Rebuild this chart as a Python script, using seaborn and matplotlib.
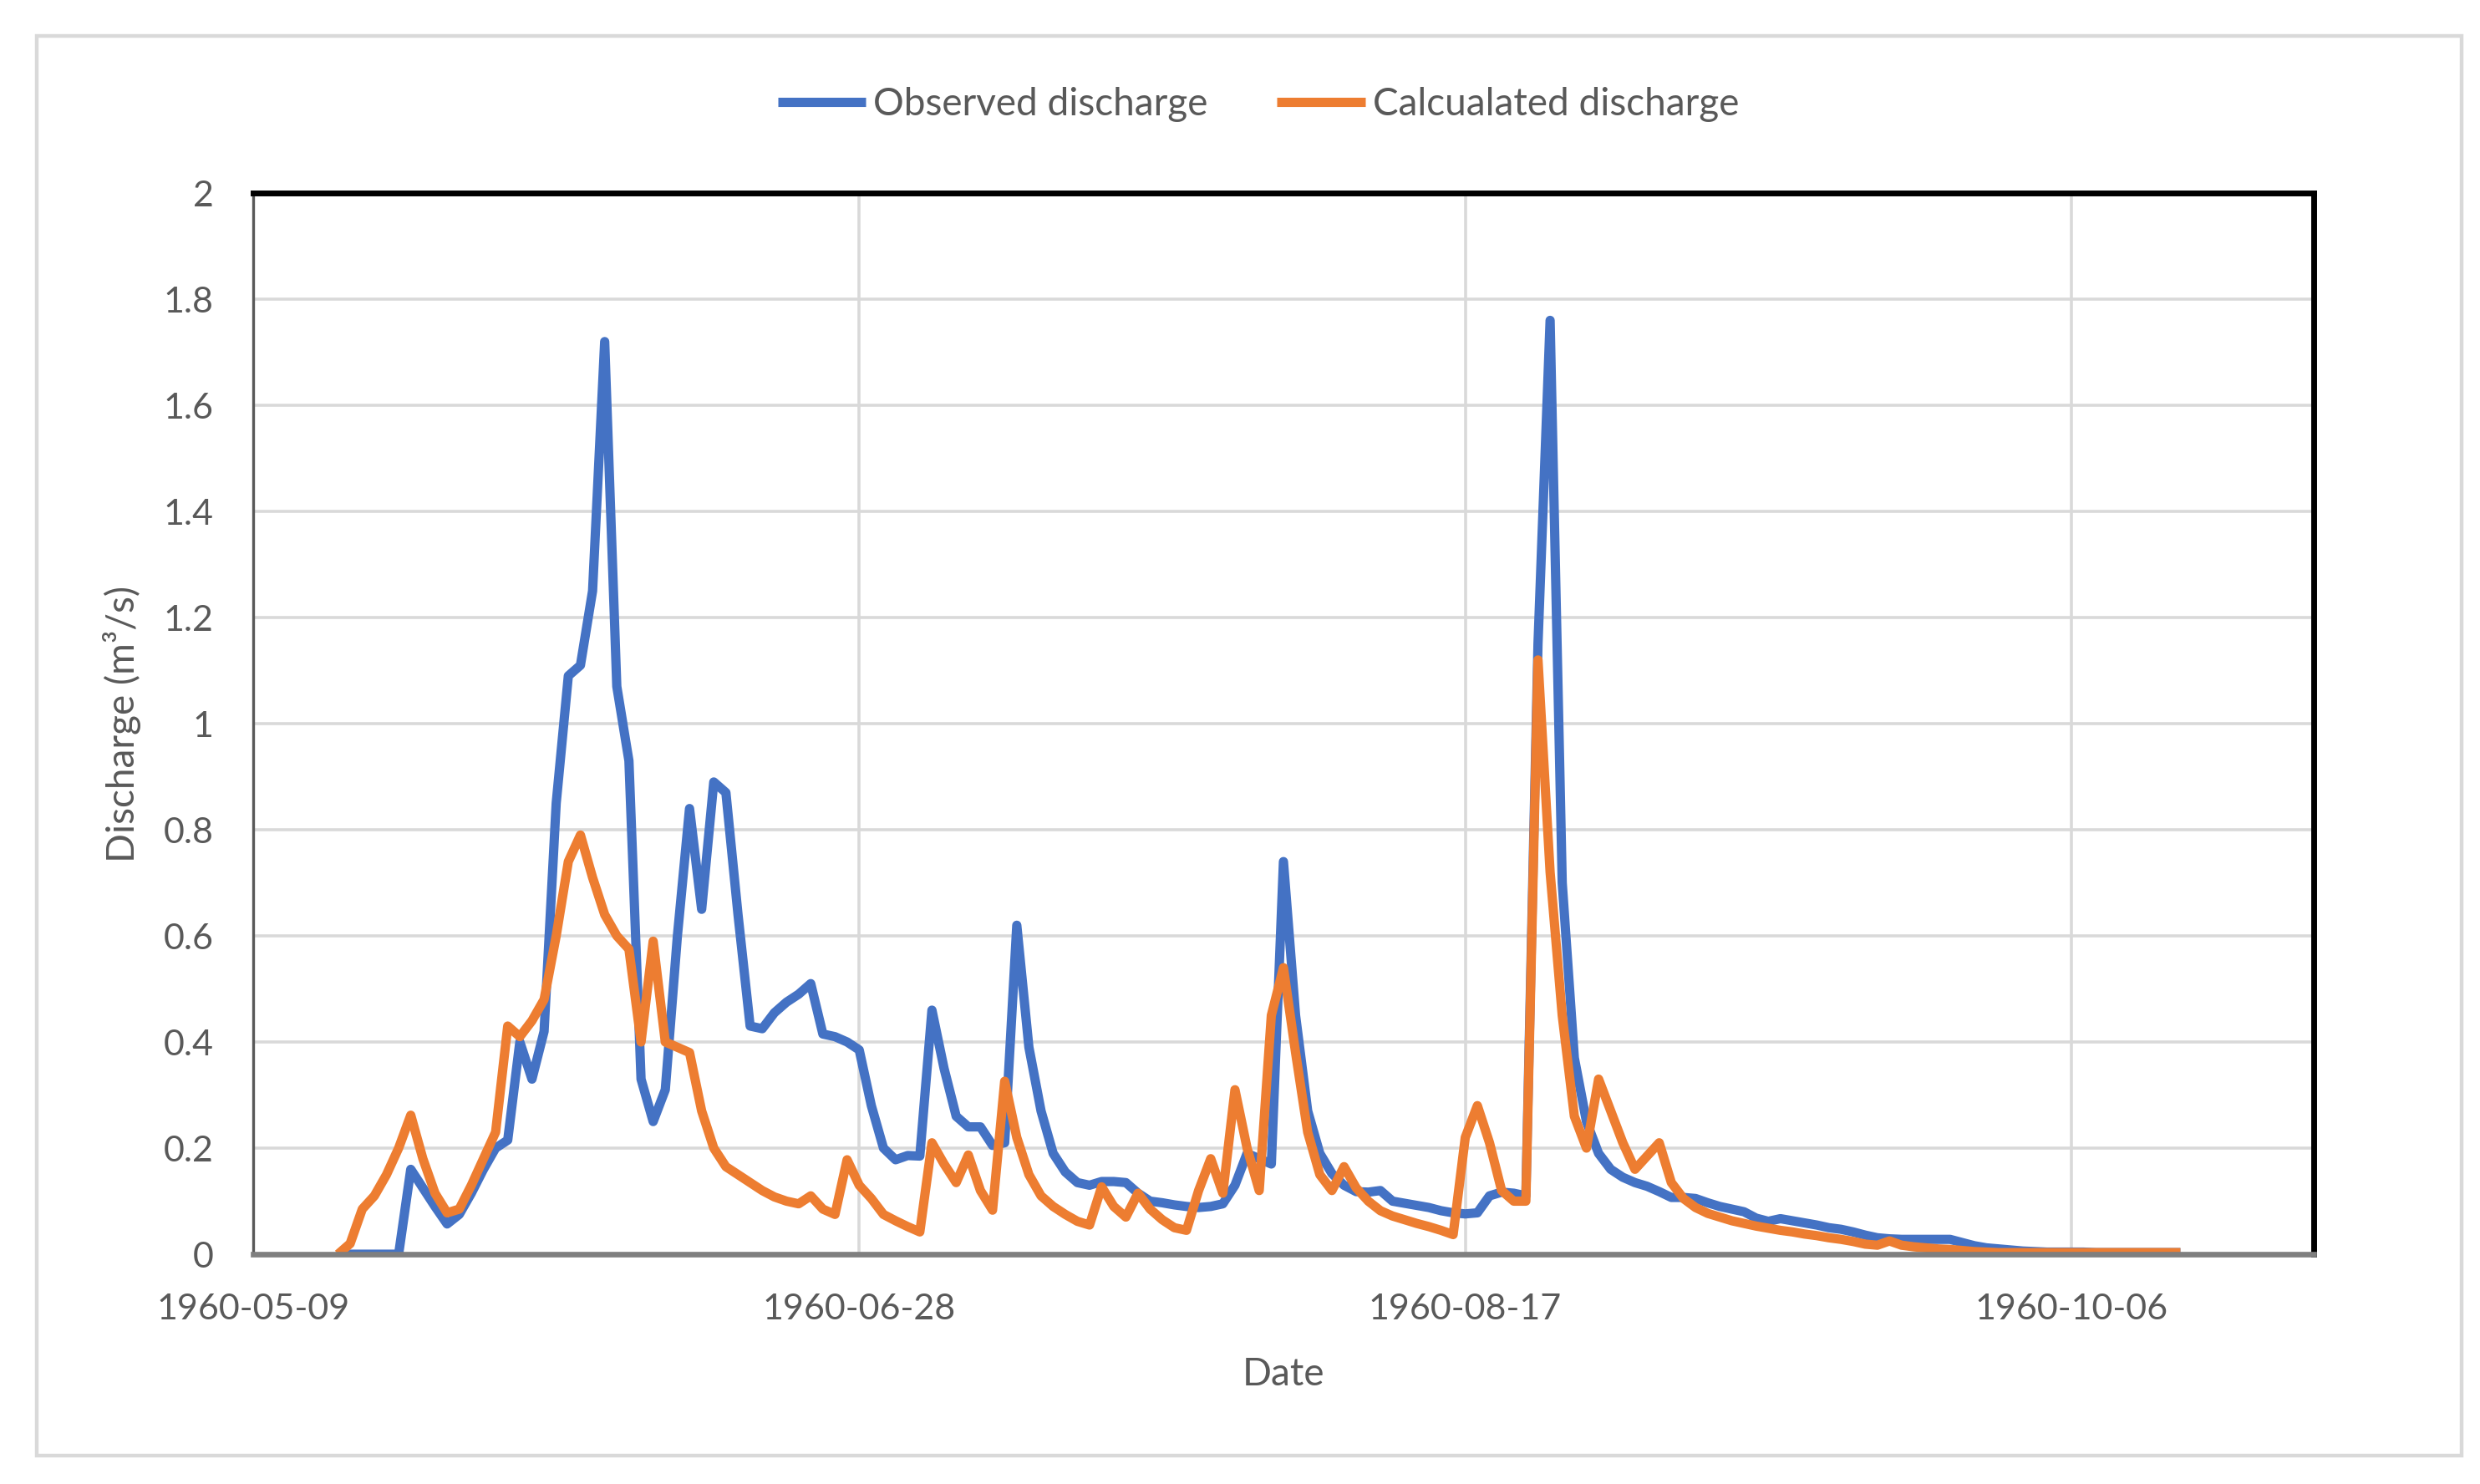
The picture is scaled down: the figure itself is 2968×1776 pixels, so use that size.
"""
Observed vs calculated daily discharge, summer 1960.
Saves out.png (2968x1776).
"""
import matplotlib
matplotlib.use('Agg')
import matplotlib.pyplot as plt
import matplotlib.dates as mdates
from matplotlib.patches import Rectangle
import pandas as pd
import seaborn as sns

# daily values, first day 1960-05-16
START = '1960-05-16'

observed = [
    0, 0, 0, 0, 0, 0, 0.16, 0.125, 0.09, 0.057,
    0.075, 0.115, 0.16, 0.20, 0.215, 0.40, 0.33, 0.42, 0.85, 1.09,
    1.11, 1.25, 1.72, 1.07, 0.93, 0.33, 0.25, 0.31, 0.60, 0.84,
    0.65, 0.89, 0.87, 0.64, 0.43, 0.425, 0.455, 0.475, 0.49, 0.51,
    0.415, 0.41, 0.40, 0.385, 0.28, 0.20, 0.178, 0.186, 0.185, 0.46,
    0.35, 0.26, 0.24, 0.24, 0.205, 0.21, 0.62, 0.39, 0.27, 0.19,
    0.155, 0.135, 0.13, 0.137, 0.137, 0.135, 0.115, 0.10, 0.097, 0.093,
    0.09, 0.088, 0.09, 0.095, 0.13, 0.19, 0.18, 0.17, 0.74, 0.45,
    0.27, 0.19, 0.152, 0.13, 0.118, 0.117, 0.12, 0.10, 0.096, 0.092,
    0.088, 0.082, 0.078, 0.076, 0.078, 0.11, 0.117, 0.115, 0.11, 1.15,
    1.76, 0.70, 0.37, 0.25, 0.19, 0.16, 0.145, 0.135, 0.128, 0.118,
    0.107, 0.107, 0.105, 0.097, 0.09, 0.085, 0.08, 0.068, 0.062, 0.067,
    0.063, 0.059, 0.055, 0.05, 0.047, 0.042, 0.036, 0.031, 0.029, 0.028,
    0.028, 0.028, 0.028, 0.028, 0.022, 0.016, 0.012, 0.01, 0.008, 0.006,
    0.005, 0.004, 0.004, 0.004, 0.004, 0.003, 0.003, 0.003, 0.003, 0.003,
    0.003, 0.003, 0.003,
]

calculated = [
    0, 0.02, 0.085, 0.11, 0.15, 0.20, 0.262, 0.18, 0.115, 0.078,
    0.085, 0.13, 0.18, 0.23, 0.43, 0.41, 0.44, 0.48, 0.60, 0.74,
    0.79, 0.71, 0.64, 0.60, 0.575, 0.40, 0.59, 0.40, 0.39, 0.38,
    0.27, 0.20, 0.165, 0.15, 0.135, 0.12, 0.108, 0.10, 0.095, 0.11,
    0.085, 0.075, 0.178, 0.13, 0.105, 0.075, 0.063, 0.052, 0.042, 0.21,
    0.17, 0.135, 0.187, 0.12, 0.083, 0.326, 0.22, 0.15, 0.11, 0.09,
    0.075, 0.062, 0.055, 0.127, 0.09, 0.07, 0.115, 0.085, 0.065, 0.05,
    0.045, 0.12, 0.18, 0.115, 0.31, 0.20, 0.12, 0.45, 0.54, 0.38,
    0.23, 0.15, 0.12, 0.165, 0.125, 0.10, 0.082, 0.072, 0.065, 0.058,
    0.052, 0.045, 0.037, 0.22, 0.28, 0.21, 0.12, 0.10, 0.10, 1.12,
    0.72, 0.45, 0.26, 0.20, 0.33, 0.27, 0.21, 0.16, 0.185, 0.21,
    0.135, 0.105, 0.088, 0.077, 0.07, 0.063, 0.058, 0.053, 0.049, 0.045,
    0.042, 0.038, 0.035, 0.031, 0.028, 0.024, 0.019, 0.017, 0.025, 0.017,
    0.014, 0.012, 0.01, 0.009, 0.007, 0.005, 0.004, 0.003, 0.003, 0.003,
    0.003, 0.003, 0.003, 0.003, 0.003, 0.003, 0.003, 0.003, 0.003, 0.003,
    0.003, 0.003, 0.003,
]

series_names = ['Observed discharge', 'Calcualated discharge']
tick_dates = ['1960-05-09', '1960-06-28', '1960-08-17', '1960-10-06']
x_range = ['1960-05-09', '1960-10-26']
y_ticks = [0, 0.2, 0.4, 0.6, 0.8, 1.0, 1.2, 1.4, 1.6, 1.8, 2.0]

BLUE = '#4472C4'
ORANGE = '#ED7D31'
TEXT = '#595959'
GRID = '#D9D9D9'

sns.set_theme(style='whitegrid')
plt.rcParams['font.family'] = ['Lato', 'DejaVu Sans']

df = pd.DataFrame({
    'date': pd.date_range(START, periods=len(observed), freq='D'),
    series_names[0]: observed,
    series_names[1]: calculated,
})
long = df.melt('date', var_name='series', value_name='discharge')

W, H = 2968, 1776
fig = plt.figure(figsize=(W / 200, H / 200), dpi=200, facecolor='white')
# axes box in pixels: x 303..2769, y 231..1501
ax = fig.add_axes([303 / W, 1 - 1501 / H, (2769 - 303) / W, (1501 - 231) / H])
ax.set_facecolor('white')

sns.lineplot(data=long, x='date', y='discharge', hue='series',
             hue_order=series_names, palette=[BLUE, ORANGE],
             linewidth=4.0, ax=ax, legend=False,
             solid_joinstyle='round', solid_capstyle='butt')

ax.set_xlim(pd.to_datetime(x_range[0]), pd.to_datetime(x_range[1]))
ax.set_ylim(0, 2)
ax.set_yticks(y_ticks)
ax.set_yticklabels([f'{v:g}' for v in y_ticks])
ax.set_xticks(pd.to_datetime(tick_dates))
ax.xaxis.set_major_formatter(mdates.DateFormatter('%Y-%m-%d'))

ax.grid(True, color=GRID, linewidth=1.3)
ax.tick_params(axis='both', length=0, labelsize=15.5, labelcolor=TEXT, pad=17)

ax.set_xlabel('Date', fontsize=16.5, color=TEXT)
ax.set_ylabel('Discharge (m³/s)', fontsize=16.5, color=TEXT)
ax.xaxis.set_label_coords(0.5, -0.097)
ax.yaxis.set_label_coords(-0.0545, 0.5)

for side in ['top', 'right']:
    ax.spines[side].set_color('black')
    ax.spines[side].set_linewidth(2.5)
ax.spines['left'].set_color(TEXT)
ax.spines['left'].set_linewidth(1.2)
ax.spines['bottom'].set_color('#7F7F7F')
ax.spines['bottom'].set_linewidth(2.4)

handles = ax.get_lines()[:2]
fig.legend(handles, series_names, loc='center', bbox_to_anchor=(1506 / W, 1 - 125 / H),
           ncol=2, frameon=False, fontsize=16.5, labelcolor=TEXT,
           handlelength=2.3, handletextpad=0.2, columnspacing=1.8)

# light frame around the whole chart
fig.add_artist(Rectangle((44 / W, 1 - 1742 / H), (2946 - 44) / W, (1742 - 43) / H,
                         transform=fig.transFigure, fill=False,
                         edgecolor=GRID, linewidth=1.6))

fig.savefig('out.png', dpi=200, facecolor='white')
plt.close(fig)
